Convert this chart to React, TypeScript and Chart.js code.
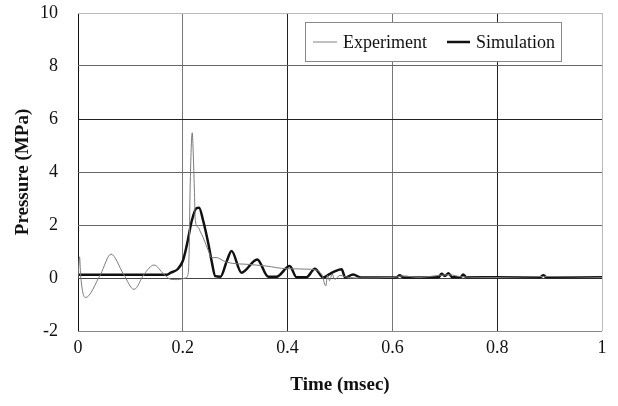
import React, { useEffect, useRef } from "react";
import { Chart, registerables } from "chart.js";

Chart.register(...registerables);

const expTime = [0, 0.003, 0.005, 0.014, 0.043, 0.063, 0.087, 0.107, 0.126, 0.145, 0.164, 0.177, 0.19, 0.205, 0.21, 0.212, 0.214, 0.218, 0.22, 0.222, 0.224, 0.23, 0.233, 0.239, 0.249, 0.255, 0.265, 0.271, 0.283, 0.328, 0.36, 0.398, 0.443, 0.465, 0.473, 0.476, 0.48, 0.485, 0.49, 0.5, 0.51, 0.53, 0.6, 0.62, 0.65, 0.69, 0.71, 0.73, 0.8, 0.89, 1.0];
const expPressure = [0, 0.8, 0.1, -0.74, 0.14, 0.9, 0.14, -0.43, 0.14, 0.49, 0.14, -0.05, -0.06, 0.0, 0.14, 0.9, 3.4, 5.48, 4.67, 3.4, 2.15, 1.9, 1.77, 1.52, 1.02, 0.77, 0.77, 0.72, 0.6, 0.51, 0.45, 0.35, 0.33, 0.14, -0.3, 0.1, -0.1, 0.15, -0.05, 0.1, 0.05, 0.0, 0.02, 0.08, 0.02, 0.1, 0.12, 0.05, 0.02, 0.06, 0.02];

const simTime = [0, 0.17, 0.177, 0.19, 0.2, 0.208, 0.217, 0.226, 0.231, 0.239, 0.249, 0.255, 0.262, 0.272, 0.284, 0.293, 0.312, 0.342, 0.363, 0.379, 0.404, 0.417, 0.436, 0.452, 0.468, 0.48, 0.49, 0.503, 0.51, 0.525, 0.54, 0.607, 0.614, 0.621, 0.688, 0.694, 0.7, 0.707, 0.714, 0.73, 0.735, 0.741, 0.882, 0.888, 0.894, 1.0];
const simPressure = [0.12, 0.12, 0.2, 0.33, 0.64, 1.27, 2.15, 2.63, 2.65, 2.15, 1.27, 0.64, 0.07, 0.05, 0.64, 1.02, 0.2, 0.7, 0.05, 0.05, 0.45, 0.03, 0.03, 0.35, 0.02, 0.15, 0.25, 0.33, 0.02, 0.13, 0.02, 0.02, 0.1, 0.02, 0.03, 0.16, 0.08, 0.18, 0.03, 0.03, 0.13, 0.03, 0.03, 0.1, 0.03, 0.03];

const seriesNames = ["Experiment", "Simulation"];
const xTitle = "Time (msec)";
const yTitle = "Pressure (MPa)";

const xGridColors: Record<string, string> = { "0": "#111", "0.2": "#777", "0.4": "#222", "0.6": "#777", "0.8": "#222", "1": "#bbb" };
const yGridColors: Record<string, string> = { "-2": "#888", "0": "#444", "2": "#666", "4": "#666", "6": "#222", "8": "#666", "10": "#bbb" };

const legendPlugin = {
  id: "insideLegend",
  afterDraw(chart: any) {
    const { ctx, chartArea } = chart;
    const left = chartArea.right - 297;
    const top = chartArea.top + 9;
    const w = 256;
    const h = 39;
    ctx.save();
    ctx.fillStyle = "#fff";
    ctx.fillRect(left, top, w, h);
    ctx.strokeStyle = "#888";
    ctx.lineWidth = 1;
    ctx.strokeRect(left + 0.5, top + 0.5, w, h);
    const cy = top + 20;
    ctx.strokeStyle = "#808080";
    ctx.lineWidth = 1;
    ctx.beginPath();
    ctx.moveTo(left + 8, cy);
    ctx.lineTo(left + 32, cy);
    ctx.stroke();
    ctx.strokeStyle = "#111";
    ctx.lineWidth = 2.5;
    ctx.beginPath();
    ctx.moveTo(left + 142, cy);
    ctx.lineTo(left + 165, cy);
    ctx.stroke();
    ctx.fillStyle = "#111";
    ctx.font = "18px 'Liberation Serif', serif";
    ctx.textBaseline = "middle";
    ctx.fillText(seriesNames[0], left + 38, cy + 1);
    ctx.fillText(seriesNames[1], left + 171, cy + 1);
    ctx.restore();
  },
};

const fmt = (v: any) => String(Math.round(Number(v) * 10) / 10);

export default function App() {
  const ref = useRef<HTMLCanvasElement>(null);
  useEffect(() => {
    if (!ref.current) return;
    const chart = new Chart(ref.current, {
      type: "line",
      data: {
        datasets: [
          {
            label: seriesNames[0],
            data: expTime.map((t, i) => ({ x: t, y: expPressure[i] })),
            borderColor: "#7a7a7a",
            borderWidth: 1,
            pointRadius: 0,
            cubicInterpolationMode: "monotone",
            fill: false,
          },
          {
            label: seriesNames[1],
            data: simTime.map((t, i) => ({ x: t, y: simPressure[i] })),
            borderColor: "#111",
            borderWidth: 2.5,
            pointRadius: 0,
            cubicInterpolationMode: "monotone",
            fill: false,
          },
        ],
      },
      options: {
        animation: false,
        responsive: false,
        layout: { padding: { top: 13, right: 16, left: 0, bottom: 0 } },
        plugins: { legend: { display: false }, tooltip: { enabled: false } },
        scales: {
          x: {
            type: "linear",
            min: 0,
            max: 1,
            ticks: { stepSize: 0.2, color: "#111", padding: 6, callback: fmt, font: { family: "'Liberation Serif', serif", size: 18 } },
            grid: {
              drawTicks: false,
              color: (c: any) => xGridColors[fmt(c.tick.value)] || "#555",
            },
            border: { display: false },
            title: { display: true, text: xTitle, color: "#111", padding: { top: 4, bottom: 10 }, font: { family: "'Liberation Serif', serif", size: 19, weight: "bold" } },
            afterFit: (s: any) => { s.height = 75; s.paddingLeft = 0; s.paddingRight = 0; },
          },
          y: {
            min: -2,
            max: 10,
            ticks: { stepSize: 2, color: "#111", padding: 20, callback: fmt, font: { family: "'Liberation Serif', serif", size: 18 } },
            grid: {
              drawTicks: false,
              color: (c: any) => yGridColors[fmt(c.tick.value)] || "#555",
            },
            border: { display: false },
            title: { display: true, text: yTitle, color: "#111", padding: { top: 12, bottom: 0 }, font: { family: "'Liberation Serif', serif", size: 19, weight: "bold" } },
            afterFit: (s: any) => { s.width = 78; s.paddingTop = 0; s.paddingBottom = 0; },
          },
        },
      },
      plugins: [legendPlugin],
    });
    return () => chart.destroy();
  }, []);
  return (
    <div style={{ position: "absolute", left: 0, top: 0, width: 618, height: 406, background: "#fff" }}>
      <canvas ref={ref} width={618} height={406} style={{ width: 618, height: 406 }} />
    </div>
  );
}
